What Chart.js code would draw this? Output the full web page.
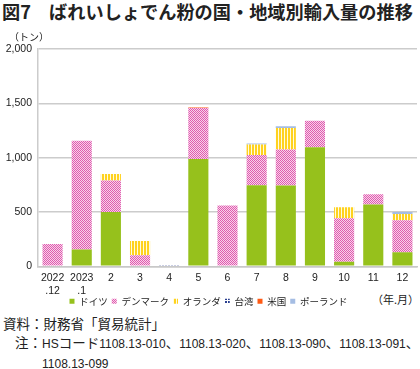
<!DOCTYPE html>
<html lang="ja">
<head>
<meta charset="UTF-8">
<title>図7 ばれいしょでん粉の国・地域別輸入量の推移</title>
<script src="https://cdn.jsdelivr.net/npm/chart.js"></script>
<style>
  body { margin: 0; width: 420px; height: 369px; background: #fff; position: relative; overflow: hidden;
         font-family: "Liberation Sans", "Noto Sans CJK JP", sans-serif; color: #222; }
  .title { position: absolute; left: 2px; top: -2px; font-size: 18.2px; font-weight: bold; white-space: nowrap;
           font-family: "Noto Sans CJK JP", sans-serif; }
  .unit { position: absolute; left: 9px; top: 29px; font-size: 10px; z-index: 2; font-family: "Noto Sans CJK JP", sans-serif; }
  .ym { position: absolute; left: 372px; top: 291px; font-size: 11px; font-family: "Noto Sans CJK JP", sans-serif; }
  .src { position: absolute; left: 3px; top: 313px; font-size: 13.5px; white-space: nowrap; }
  .note { position: absolute; left: 0px; top: 334px; font-size: 13.5px; white-space: nowrap; line-height: 19px; }
  .note span { display: inline-block; }
  .note .n { font-size: 12px; }
  #wrap { position: absolute; left: 0; top: 28px; width: 420px; height: 291px; }
</style>
</head>
<body>
<div class="title">図7　ばれいしょでん粉の国・地域別輸入量の推移</div>
<div class="unit">（トン）</div>
<div class="ym">（年.月）</div>
<div class="src">資料：財務省「貿易統計」</div>
<div class="note"><span style="width:15px"></span>注：<span class="n">HS</span>コード<span class="n">1108.13-010</span>、<span class="n">1108.13-020</span>、<span class="n">1108.13-090</span>、<span class="n">1108.13-091</span>、<br><span style="width:42px"></span><span class="n">1108.13-099</span></div>
<div id="wrap"><canvas id="grafico"></canvas></div>
<script>
// 月ラベル
const meses = [['2022', '.12'], ['2023', '.1'], '2', '3', '4', '5', '6', '7', '8', '9', '10', '11', '12'];

// 国別輸入量（トン）
const alemanha  = [0, 155, 500, 0, 0, 988, 0, 747, 744, 1096, 43, 568, 130];
const dinamarca = [205, 1000, 290, 102, 0, 470, 560, 278, 330, 244, 400, 96, 293];
const holanda   = [0, 0, 60, 130, 0, 0, 0, 95, 200, 0, 100, 0, 58];
const taiwan    = [0, 0, 0, 0, 4, 0, 0, 0, 0, 0, 0, 0, 0];
const eua       = [0, 0, 0, 0, 0, 3, 0, 0, 0, 0, 0, 0, 0];
const polonia   = [0, 0, 0, 0, 0, 0, 0, 10, 15, 0, 0, 0, 18];

const yTicks = [0, 500, 1000, 1500, 2000];

function padrao(w, h, desenha) {
    let c = document.createElement('canvas');
    c.width = w; c.height = h;
    let g = c.getContext('2d');
    desenha(g);
    return g.createPattern(c, 'repeat');
}

// デンマーク：ピンクの波模様
const rosa = padrao(4, 4, function (g) {
    g.fillStyle = '#f7d3ea'; g.fillRect(0, 0, 4, 4);
    g.fillStyle = '#e05aae';
    g.fillRect(0, 0, 1, 1); g.fillRect(1, 1, 1, 1); g.fillRect(2, 0, 1, 1); g.fillRect(3, 1, 1, 1);
    g.fillRect(0, 2, 1, 1); g.fillRect(1, 3, 1, 1); g.fillRect(2, 2, 1, 1); g.fillRect(3, 3, 1, 1);
});
// オランダ：黄色の縦縞
const amarelo = padrao(3, 2, function (g) {
    g.fillStyle = '#fffbe0'; g.fillRect(0, 0, 3, 2);
    g.fillStyle = '#ffd21e'; g.fillRect(0, 0, 2, 2);
});
// 台湾：紺の点
const azul = padrao(3, 3, function (g) {
    g.fillStyle = '#ffffff'; g.fillRect(0, 0, 3, 3);
    g.fillStyle = '#2a3f8f'; g.fillRect(0, 0, 2, 2);
});

const dados = {
    labels: meses,
    datasets: [
        { label: 'ドイツ', data: alemanha, backgroundColor: '#96c11c' },
        { label: 'デンマーク', data: dinamarca, backgroundColor: rosa },
        { label: 'オランダ', data: holanda, backgroundColor: amarelo },
        { label: '台湾', data: taiwan, backgroundColor: azul },
        { label: '米国', data: eua, backgroundColor: '#ff5a14' },
        { label: 'ポーランド', data: polonia, backgroundColor: '#a5bde3' }
    ]
};

// 凡例を軸ラベルに近づける（描画位置だけ上へずらす）
const legendaJunta = {
    id: 'legendaJunta',
    afterLayout: function (chart) {
        chart.legend.top -= 3;
        chart.legend.bottom -= 3;
    }
};

const config = {
    type: 'bar',
    data: dados,
    plugins: [legendaJunta],
    options: {
        responsive: true,
        maintainAspectRatio: false,
        animation: false,
        layout: { padding: { top: 21, right: 3, left: 0, bottom: 0 } },
        datasets: { bar: { barPercentage: 0.69, categoryPercentage: 1.0, borderWidth: 0 } },
        plugins: {
            tooltip: { enabled: false },
            legend: {
                position: 'bottom',
                labels: {
                    boxWidth: 5, boxHeight: 5, padding: 4,
                    color: '#222',
                    font: { size: 9.5, family: '"Noto Sans CJK JP", sans-serif' }
                }
            }
        },
        scales: {
            x: {
                stacked: true,
                grid: { display: false },
                border: { color: '#c8c8c8', width: 1.5 },
                ticks: { color: '#222', maxRotation: 0, autoSkip: false, padding: -2,
                         font: { size: 10.5, family: 'Arial, "Liberation Sans", sans-serif' } }
            },
            y: {
                stacked: true,
                min: 0, max: 2000,
                afterFit: function (s) { s.width = 38; },
                afterBuildTicks: function (s) { s.ticks = yTicks.map(v => ({ value: v })); },
                grid: { color: '#cccccc', lineWidth: 1.5, drawTicks: false },
                border: { display: true, color: '#cccccc', width: 1.5 },
                ticks: { color: '#222', padding: 6,
                         font: { size: 10.5, family: 'Arial, "Liberation Sans", sans-serif' },
                         callback: v => v.toLocaleString('en-US') }
            }
        }
    }
};

let grafico = new Chart(document.getElementById('grafico'), config);
</script>
</body>
</html>
